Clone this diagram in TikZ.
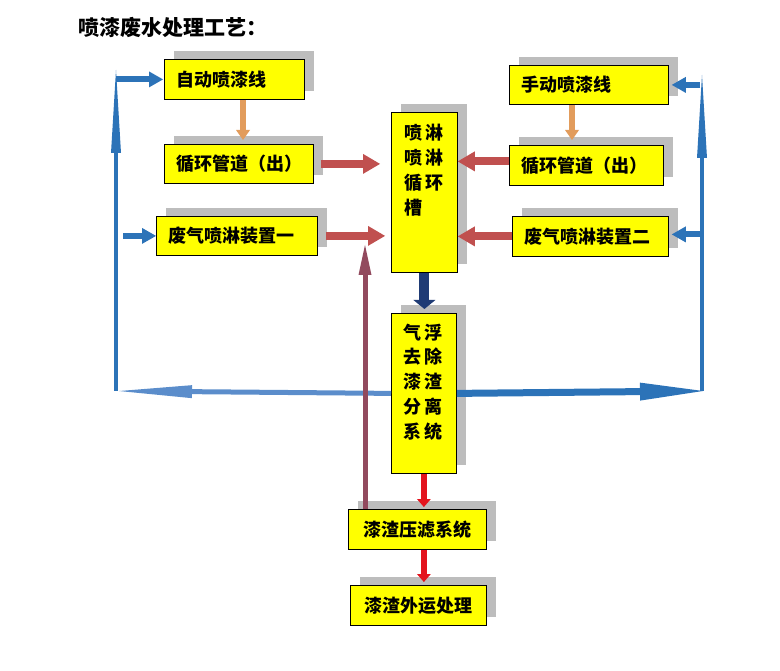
\documentclass[tikz,border=0pt]{standalone}
\usepackage{fontspec}
\newfontfamily\cjk{Noto Sans CJK SC}
\usetikzlibrary{arrows.meta,shadows,calc}
\definecolor{boxyellow}{HTML}{FFFF00}
\definecolor{shadowgray}{HTML}{BDBDBD}
\definecolor{flowblue}{HTML}{2C73B8}
\definecolor{lightblue}{HTML}{5B8DCB}
\definecolor{pipered}{HTML}{C0504F}
\definecolor{orangec}{HTML}{E29C5C}
\definecolor{navyc}{HTML}{1F3B75}
\definecolor{brightred}{HTML}{E3141E}
\definecolor{maroonc}{HTML}{924A5E}
\begin{document}
\begin{tikzpicture}[x=1pt,y=-1pt,
  box/.style={draw=black, line width=0.8pt, fill=boxyellow, anchor=north west,
    inner xsep=12pt, inner ysep=0pt, align=left,
    font=\cjk\bfseries\fontsize{18}{21}\selectfont,
    general shadow={fill=shadowgray, shadow xshift=10pt, shadow yshift=8pt}},
  vtext/.style={inner sep=0pt, anchor=base west, align=left,
    font=\cjk\bfseries\fontsize{18}{24.8}\selectfont},
  redarr/.style={draw=pipered, line width=8pt, -{Triangle[length=17pt,width=20pt,line width=0pt]}},
  orangearr/.style={draw=orangec, line width=6pt, -{Triangle[length=10pt,width=14pt,line width=0pt]}},
  navyarr/.style={draw=navyc, line width=10pt, -{Triangle[length=9pt,width=22pt,line width=0pt]}},
  brightarr/.style={draw=brightred, line width=6pt, -{Triangle[length=8pt,width=14pt,line width=0pt]}},
  maroonarr/.style={draw=maroonc, line width=5pt, -{Triangle[length=30pt,width=13pt,line width=0pt]}},
  bluevert/.style={draw=flowblue, line width=4.5pt, -{Triangle[length=83pt,width=10pt,line width=0pt]}},
  bluebranch/.style={draw=flowblue, line width=6pt, -{Triangle[length=14pt,width=16pt,line width=0pt]}},
  bluemain/.style={draw=flowblue, line width=7pt, -{Triangle[length=63pt,width=18pt,line width=0pt]}},
  bluelight/.style={draw=lightblue, line width=5pt, -{Triangle[length=73pt,width=13pt,line width=0pt]}}
]
\useasboundingbox (0,0) rectangle (780,671);
\newcommand{\cc}[1]{\makebox[21pt][c]{#1}}

% title
\node[inner sep=0pt, anchor=base west, font=\cjk\bfseries\fontsize{21}{24}\selectfont] (title) at (78,36) {喷漆废水处理工艺：};

% boxes
\node[box, text width=116pt, minimum height=40pt] (auto) at (164,59) {自动喷漆线};
\node[box, text width=125pt, minimum height=39pt] (pipeL) at (164,144) {循环管道（出）};
\node[box, text width=137pt, minimum height=39pt] (gasL) at (156,216) {废气喷淋装置一};
\node[box, text width=135pt, minimum height=39pt] (hand) at (509,65) {手动喷漆线};
\node[box, text width=130pt, minimum height=40pt] (pipeR) at (509,145) {循环管道（出）};
\node[box, text width=132pt, minimum height=40pt] (gasR) at (512,216) {废气喷淋装置二};
\node[box, inner xsep=0pt, minimum width=66pt, minimum height=160pt] (tank) at (391,112) {};
\node[vtext] (tanktxt) at (402.5,214.4) {\cc{喷}\cc{淋}\\\cc{喷}\cc{淋}\\\cc{循}\cc{环}\\\cc{槽}};
\node[box, inner xsep=0pt, minimum width=65pt, minimum height=160pt] (float) at (391,313) {};
\node[vtext] (floattxt) at (401.5,438.2) {\cc{气}\cc{浮}\\\cc{去}\cc{除}\\\cc{漆}\cc{渣}\\\cc{分}\cc{离}\\\cc{系}\cc{统}};
\node[box, text width=114pt, minimum height=40pt, align=center] (press) at (348,509) {漆渣压滤系统};
\node[box, text width=112pt, minimum height=40pt, align=center] (out) at (350,585) {漆渣外运处理};

% coordinates for loop
\coordinate (lb) at (116,391);
\coordinate (lt) at (116,70);
\coordinate (rb) at (702,391);
\coordinate (rt) at (702,75);
\coordinate (mtop) at (365,245);

% orange arrows
\draw[orangearr, shorten >=4pt] ([xshift=79pt]auto.south west) -- ([xshift=79pt]pipeL.north west);
\draw[orangearr, shorten >=5pt] ([xshift=63pt]hand.south west) -- ([xshift=63pt]pipeR.north west);

% red arrows into tank
\draw[redarr, shorten <=7pt, shorten >=11pt] (pipeL.east) -- (pipeL.east -| tank.west);
\draw[redarr, shorten <=8pt, shorten >=6pt] (gasL.east) -- (gasL.east -| tank.west);
\draw[redarr] ([yshift=4pt]pipeR.west) -- ([yshift=4pt]pipeR.west -| tank.east);
\draw[redarr] (gasR.west) -- (gasR.west -| tank.east);

% navy arrow
\draw[navyarr, shorten >=4pt] (tank.south) -- (tank.south |- float.north);

% bright red arrows
\draw[brightarr, shorten >=2pt] (float.south) -- (float.south |- press.north);
\draw[brightarr, shorten >=3pt] (float.south |- press.south) -- (float.south |- out.north);

% blue loop
\draw[bluelight, shorten >=3pt] (float.west) -- (lb);
\draw[bluemain, shorten >=-1pt] (float.east) -- (rb);
\draw[bluevert] (lb) -- (lt);
\draw[bluevert] (rb) -- (rt);
\draw[bluebranch, shorten >=1pt] (lt |- auto.west) -- (auto.west);
\draw[bluebranch] ([xshift=7pt]lt |- gasL.west) -- (gasL.west);
\draw[bluebranch, shorten >=3pt] ([xshift=-2pt]rt |- hand.east) -- (hand.east);
\draw[bluebranch, shorten >=3pt] ([yshift=2pt]rt |- gasR.east) -- ([yshift=2pt]gasR.east);

% maroon arrow
\draw[maroonarr] (press.north -| mtop) -- (mtop);
\end{tikzpicture}
\end{document}
